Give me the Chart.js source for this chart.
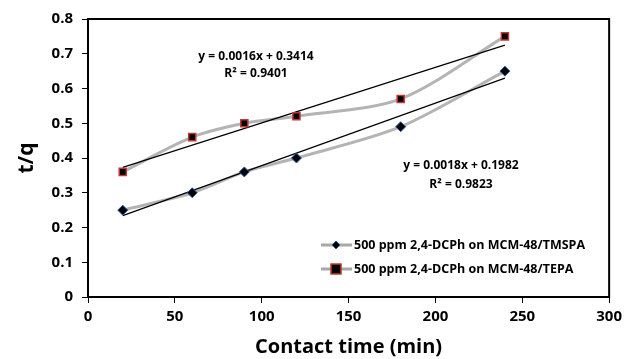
<!DOCTYPE html>
<html>
<head>
<meta charset="utf-8">
<script src="https://cdn.jsdelivr.net/npm/chart.js@4/dist/chart.umd.min.js"></script>
<style>
  html, body { margin: 0; padding: 0; background: #fff; }
  #wrap { width: 627px; height: 359px; }
</style>
</head>
<body>
<div id="wrap"><canvas id="chart" width="627" height="359"></canvas></div>
<script>
// contact time (min)
const times = [20, 60, 90, 120, 180, 240];
// t/q values
const tmspa = [0.25, 0.30, 0.36, 0.40, 0.49, 0.65];
const tepa = [0.36, 0.46, 0.50, 0.52, 0.57, 0.75];
// linear trend end points (x = 20 and x = 240)
const trendX = [20, 240];
const tmspaTrend = [0.234, 0.630];
const tepaTrend = [0.373, 0.725];

const xTicks = [0, 50, 100, 150, 200, 250, 300];
const yTicks = [0, 0.1, 0.2, 0.3, 0.4, 0.5, 0.6, 0.7, 0.8];

const labelTmspa = '500 ppm 2,4-DCPh on MCM-48/TMSPA';
const labelTepa = '500 ppm 2,4-DCPh on MCM-48/TEPA';

const pts = (xs, ys) => xs.map((x, i) => ({ x: x, y: ys[i] }));

const FONT = '"Open Sans", sans-serif';

const extras = {
  id: 'extras',
  afterDraw(chart) {
    const ctx = chart.ctx;
    const a = chart.chartArea;
    ctx.save();
    // frame
    ctx.strokeStyle = '#000';
    ctx.lineWidth = 2;
    ctx.strokeRect(a.left, a.top, a.right - a.left, a.bottom - a.top);

    // equations
    ctx.fillStyle = '#000';
    ctx.font = 'bold 12px ' + FONT;
    ctx.textAlign = 'center';
    ctx.textBaseline = 'middle';
    ctx.fillText('y = 0.0016x + 0.3414', 256, 57);
    ctx.fillText('R² = 0.9401', 256, 74);
    ctx.fillText('y = 0.0018x + 0.1982', 461, 166);
    ctx.fillText('R² = 0.9823', 461, 185);

    // legend
    const rows = [
      { text: labelTmspa, y: 245, marker: 'diamond' },
      { text: labelTepa, y: 269, marker: 'square' }
    ];
    ctx.font = 'bold 12.5px ' + FONT;
    ctx.textAlign = 'left';
    rows.forEach(r => {
      ctx.strokeStyle = '#a8a8a8';
      ctx.lineWidth = 3;
      ctx.beginPath();
      ctx.moveTo(321, r.y);
      ctx.lineTo(352, r.y);
      ctx.stroke();
      const cx = 336;
      if (r.marker === 'diamond') {
        ctx.fillStyle = '#000';
        ctx.strokeStyle = '#2a5caa';
        ctx.lineWidth = 1;
        ctx.beginPath();
        ctx.moveTo(cx, r.y - 4);
        ctx.lineTo(cx + 4, r.y);
        ctx.lineTo(cx, r.y + 4);
        ctx.lineTo(cx - 4, r.y);
        ctx.closePath();
        ctx.fill();
        ctx.stroke();
      } else {
        ctx.fillStyle = '#000';
        ctx.strokeStyle = '#c0392b';
        ctx.lineWidth = 1.5;
        ctx.fillRect(cx - 5, r.y - 5, 10, 10);
        ctx.strokeRect(cx - 5, r.y - 5, 10, 10);
      }
      ctx.fillStyle = '#000';
      ctx.fillText(r.text, 354, r.y);
    });
    ctx.restore();
  }
};

new Chart(document.getElementById('chart').getContext('2d'), {
  type: 'line',
  data: {
    datasets: [
      {
        label: labelTmspa + ' curve',
        data: pts(times, tmspa),
        borderColor: '#b4b4b4',
        borderWidth: 3,
        tension: 0.3,
        pointRadius: 0,
        order: 5
      },
      {
        label: labelTepa + ' curve',
        data: pts(times, tepa),
        borderColor: '#b4b4b4',
        borderWidth: 3,
        tension: 0.3,
        pointRadius: 0,
        order: 4
      },
      {
        label: 'trend TMSPA',
        data: pts(trendX, tmspaTrend),
        borderColor: '#000',
        borderWidth: 1.2,
        pointRadius: 0,
        order: 3
      },
      {
        label: 'trend TEPA',
        data: pts(trendX, tepaTrend),
        borderColor: '#000',
        borderWidth: 1.2,
        pointRadius: 0,
        order: 2
      },
      {
        label: labelTmspa,
        data: pts(times, tmspa),
        showLine: false,
        pointStyle: 'rectRot',
        pointRadius: 5,
        pointBackgroundColor: '#000',
        pointBorderColor: '#2a5caa',
        pointBorderWidth: 1,
        order: 1
      },
      {
        label: labelTepa,
        data: pts(times, tepa),
        showLine: false,
        pointStyle: 'rect',
        pointRadius: 5,
        pointBackgroundColor: '#000',
        pointBorderColor: '#c0392b',
        pointBorderWidth: 1.5,
        order: 0
      }
    ]
  },
  options: {
    responsive: false,
    animation: false,
    layout: { padding: { top: 19, right: 17, left: 0, bottom: 0 } },
    plugins: {
      legend: { display: false },
      tooltip: { enabled: false }
    },
    scales: {
      x: {
        type: 'linear',
        min: 0,
        max: 300,
        afterBuildTicks: s => { s.ticks = xTicks.map(v => ({ value: v })); },
        afterFit: s => { s.height = 62; },
        grid: { display: true, drawOnChartArea: false, drawTicks: true, tickLength: 6, color: '#000' },
        border: { display: true, color: '#000', width: 2 },
        ticks: { color: '#000', font: { family: FONT, size: 15, weight: 'bold' }, padding: 5 },
        title: {
          display: true,
          text: 'Contact time (min)',
          color: '#000',
          font: { family: FONT, size: 20, weight: 'bold' },
          padding: { top: 0, bottom: 0 }
        }
      },
      y: {
        min: 0,
        max: 0.8,
        afterBuildTicks: s => { s.ticks = yTicks.map(v => ({ value: v })); },
        afterFit: s => { s.width = 88; },
        grid: { display: true, drawOnChartArea: false, drawTicks: true, tickLength: 6, color: '#000' },
        border: { display: true, color: '#000', width: 2 },
        ticks: { color: '#000', font: { family: FONT, size: 15, weight: 'bold' }, padding: 9 },
        title: {
          display: true,
          text: 't/q',
          color: '#000',
          font: { family: FONT, size: 21, weight: 'bold' },
          padding: { top: 14, bottom: 0 }
        }
      }
    }
  },
  plugins: [extras]
});
</script>
</body>
</html>
